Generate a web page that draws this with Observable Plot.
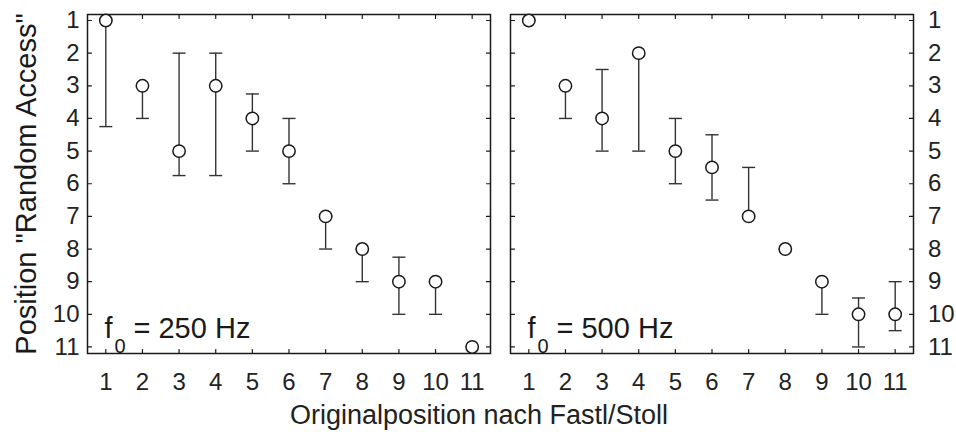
<!DOCTYPE html>
<html>
<head>
<meta charset="utf-8">
<script src="https://cdn.jsdelivr.net/npm/d3@7"></script>
<script src="https://cdn.jsdelivr.net/npm/@observablehq/plot@0.6"></script>
<style>
  body { margin: 0; background: #fff; }
  #chart { position: relative; width: 956px; height: 432px; font-family: "Liberation Sans", Arial, sans-serif; color: #222; }
  #chart svg { position: absolute; top: 0; overflow: visible; }
  #xlabel { position: absolute; left: 0; width: 958px; top: 402px; text-align: center; font-size: 27px; line-height: 27px; white-space: nowrap; }
</style>
</head>
<body>
<div id="chart"></div>
<script>
// ---- data ----
const positions = [1, 2, 3, 4, 5, 6, 7, 8, 9, 10, 11];
const yTicks = [1, 2, 3, 4, 5, 6, 7, 8, 9, 10, 11];
const xTicks = [1, 2, 3, 4, 5, 6, 7, 8, 9, 10, 11];

// f0 = 250 Hz
const median250 = [1, 3, 5, 3, 4, 5, 7, 8, 9, 9, 11];
const upper250  = [1, 3, 2, 2, 3.25, 4, 7, 8, 8.25, 9, 11];
const lower250  = [4.25, 4, 5.75, 5.75, 5, 6, 8, 9, 10, 10, 11];

// f0 = 500 Hz
const median500 = [1, 3, 4, 2, 5, 5.5, 7, 8, 9, 10, 10];
const upper500  = [1, 3, 2.5, 2, 4, 4.5, 5.5, 8, 9, 9.5, 9];
const lower500  = [1, 4, 5, 5, 6, 6.5, 7, 8, 10, 11, 10.5];

const freqLabels = ["250 Hz", "500 Hz"];
const yLabel = "Position \"Random Access\"";
const xLabel = "Originalposition nach Fastl/Stoll";

// ---- helpers ----
const tickShape = { draw(context, l) { context.moveTo(0, 0); context.lineTo(0, -l); } };
const capSymbol = { draw(context, size) { const w = Math.sqrt(size / Math.PI); context.moveTo(-w, 0); context.lineTo(w, 0); } };
const ink = "#1a1a1a";

function panel(median, upper, lower, freq, side) {
  const data = positions.map((p, i) => ({ pos: p, med: median[i], lo: upper[i], hi: lower[i] }));
  const left = side === "left";
  const marks = [
    Plot.frame({ stroke: ink, strokeWidth: 1.5 }),
    // inward ticks on all four sides
    Plot.vector(yTicks, { y: d => d, frameAnchor: "left", rotate: 90, length: 4, anchor: "start", shape: tickShape, stroke: ink, strokeWidth: 1.2 }),
    Plot.vector(yTicks, { y: d => d, frameAnchor: "right", rotate: -90, length: 4, anchor: "start", shape: tickShape, stroke: ink, strokeWidth: 1.2 }),
    Plot.vector(xTicks, { x: d => d, frameAnchor: "top", rotate: 180, length: 4, anchor: "start", shape: tickShape, stroke: ink, strokeWidth: 1.2 }),
    Plot.vector(xTicks, { x: d => d, frameAnchor: "bottom", rotate: 0, length: 4, anchor: "start", shape: tickShape, stroke: ink, strokeWidth: 1.2 }),
    Plot.axisX(xTicks, { anchor: "bottom", tickSize: 0, tickPadding: 19, fontSize: 24, label: null, tickFormat: d => String(d) }),
    Plot.axisY(yTicks, { anchor: side, tickSize: 0, tickPadding: left ? 8 : 14.5, fontSize: 24, label: null, tickFormat: d => String(d) }),
    // error bars
    Plot.ruleX(data, { x: "pos", y1: "lo", y2: "hi", stroke: "#333", strokeWidth: 1.4 }),
    Plot.dot(data, { x: "pos", y: "lo", symbol: capSymbol, r: 6.5, stroke: "#333", strokeWidth: 1.4, fill: "none" }),
    Plot.dot(data, { x: "pos", y: "hi", symbol: capSymbol, r: 6.5, stroke: "#333", strokeWidth: 1.4, fill: "none" }),
    Plot.dot(data, { x: "pos", y: "med", r: 6.2, fill: "white", stroke: ink, strokeWidth: 1.5 }),
    // f0 label
    Plot.text(["f"], { frameAnchor: "bottom-left", textAnchor: "start", lineAnchor: "bottom", dx: 17, dy: -16, fontSize: 29, fill: ink }),
    Plot.text(["0"], { frameAnchor: "bottom-left", textAnchor: "start", lineAnchor: "bottom", dx: 27, dy: -1, fontSize: 20, fill: ink }),
    Plot.text(["= " + freq], { frameAnchor: "bottom-left", textAnchor: "start", lineAnchor: "bottom", dx: 46, dy: -16, fontSize: 29, fill: ink })
  ];
  if (left) {
    marks.push(Plot.text([yLabel], { frameAnchor: "left", rotate: -90, textAnchor: "middle", lineAnchor: "bottom", dx: -52, fontSize: 29, fill: ink }));
  }
  return Plot.plot({
    width: left ? 500 : 456,
    height: 432,
    marginLeft: left ? 87 : 10,
    marginRight: left ? 10 : 43,
    marginTop: 14,
    marginBottom: 79,
    style: { fontFamily: "'Liberation Sans', Arial, sans-serif", color: "#222", background: "transparent", overflow: "visible" },
    x: { domain: [0.5, 11.5] },
    y: { domain: [0.816, 11.2], reverse: true },
    marks
  });
}

const chart = document.getElementById("chart");
const p1 = panel(median250, upper250, lower250, freqLabels[0], "left");
p1.style.left = "0px";
const p2 = panel(median500, upper500, lower500, freqLabels[1], "right");
p2.style.left = "500px";
chart.appendChild(p1);
chart.appendChild(p2);
const xl = document.createElement("div");
xl.id = "xlabel";
xl.textContent = xLabel;
chart.appendChild(xl);
</script>
</body>
</html>
